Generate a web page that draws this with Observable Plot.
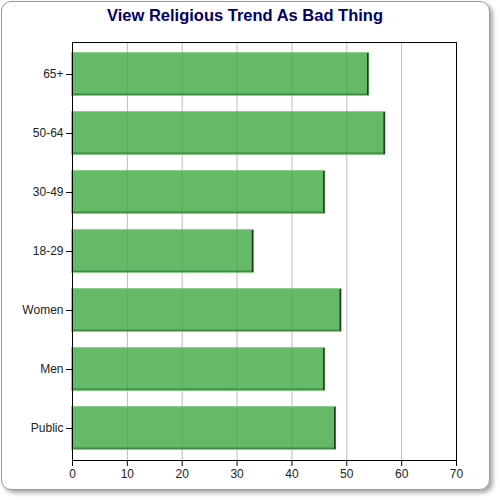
<!DOCTYPE html>
<html><head><meta charset="utf-8">
<script src="https://cdn.jsdelivr.net/npm/d3@7"></script>
<script src="https://cdn.jsdelivr.net/npm/@observablehq/plot@0.6"></script>
<style>
html,body{margin:0;padding:0;background:#fff;}
#card{position:absolute;left:1px;top:1px;width:487px;height:487px;border:1px solid #999;border-radius:10px;background:#fff;box-shadow:3px 3px 4px #aaa;}
#title{position:absolute;left:0;top:6px;width:490px;text-align:center;font:bold 16.5px "Liberation Sans",Arial,sans-serif;color:#000066;}
#chart{position:absolute;left:0;top:30px;}
</style></head>
<body>
<div id="card"></div>
<div id="title">View Religious Trend As Bad Thing</div>
<div id="chart"></div>
<script>
const categories = ["65+","50-64","30-49","18-29","Women","Men","Public"];
const values = [54,57,46,33,49,46,48];
const xTicks = [0,10,20,30,40,50,60,70];
const data = categories.map((c,i)=>({cat:c, v:values[i]}));

const chart = Plot.plot({
  width: 500, height: 470,
  marginTop: 12, marginBottom: 40, marginLeft: 72, marginRight: 44,
  style: {fontFamily: '"Liberation Sans", Arial, sans-serif', fontSize: "12px", color: "#222", background: "transparent"},
  x: {domain: [0,70], ticks: xTicks, label: null, tickSize: 6},
  y: {domain: categories, paddingInner: 0.28, paddingOuter: 0.13, label: null, tickSize: 6},
  marks: [
    Plot.gridX(xTicks.slice(1,-1), {stroke: "#bbb", strokeOpacity: 1}),
    Plot.barX(data, {x: "v", y: "cat", fill: "#3da940", fillOpacity: 0.8, stroke: "#66c066", strokeWidth: 1.5}),
    Plot.barX(data, {x: "v", y: "cat", fill: "#163d16", insetTop: 40.8, insetBottom: 0.6, insetRight: 0.6}),
    Plot.tickX(data, {x: "v", y: "cat", stroke: "#163d16", strokeWidth: 1.5, dx: -1}),
    Plot.barX(data, {x: "v", y: "cat", fill: "#a8dba8", insetTop: 1, insetBottom: 41, insetRight: 2, insetLeft: 1}),
    Plot.frame({stroke: "#000"}),
    Plot.axisX({ticks: xTicks, tickSize: 6, stroke: "#000"}),
    Plot.axisY({tickSize: 6, stroke: "#000"})
  ]
});
document.getElementById("chart").appendChild(chart);
</script>
</body></html>
